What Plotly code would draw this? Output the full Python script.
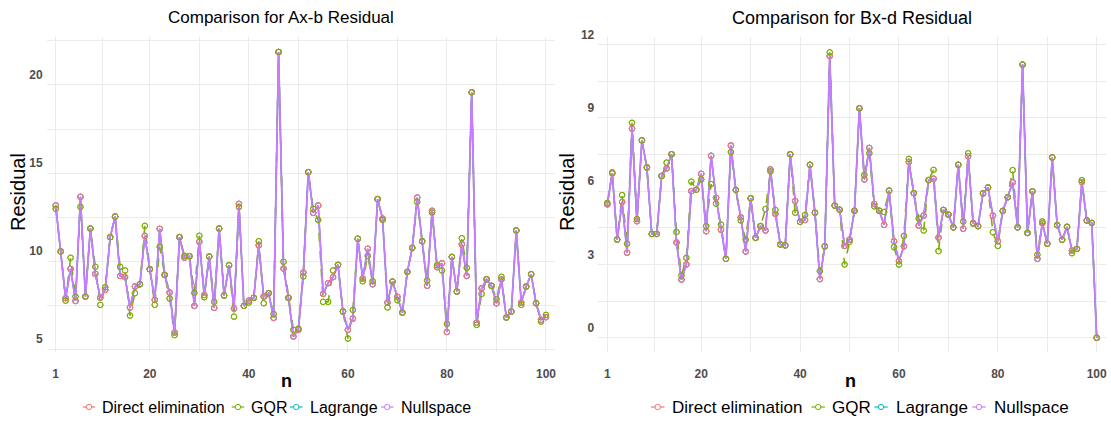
import plotly.graph_objects as go

W, H = 1111, 423

n = list(range(1, 101))

# ---------------- Ax-b residual ----------------
direct_ab = [13.16, 10.55, 7.9, 9.56, 7.74, 13.65, 7.99, 11.85, 9.28, 7.93,
             8.37, 11.36, 12.53, 9.16, 9.09, 7.37, 8.56, 8.69, 11.44, 9.54,
             7.8, 11.83, 9.22, 8.22, 5.95, 11.36, 10.2, 10.28, 7.46, 11.1,
             8.08, 10.26, 7.35, 11.85, 8.05, 9.77, 7.31, 13.25, 7.46, 7.76,
             7.92, 10.9, 7.99, 8.18, 6.78, 21.87, 9.58, 7.92, 5.72, 6.1,
             9.35, 15.05, 12.74, 13.16, 8.14, 8.75, 9.09, 9.79, 7.14, 6.1,
             6.74, 11.27, 9.01, 10.7, 8.69, 13.52, 12.42, 7.65, 8.84, 7.97,
             7.08, 9.39, 10.75, 13.61, 11.13, 8.6, 12.86, 9.66, 9.88, 5.98,
             10.24, 8.27, 10.96, 9.16, 19.58, 6.51, 8.46, 8.97, 8.6, 7.61,
             8.96, 6.8, 7.14, 11.74, 7.65, 8.56, 9.26, 7.61, 6.67, 6.82]
gqr_ab = [12.97, 10.55, 7.76, 10.19, 7.99, 13.08, 7.99, 11.85, 9.68, 7.52,
          8.52, 11.36, 12.53, 9.68, 9.47, 6.91, 8.18, 8.69, 12.0, 9.54,
          7.52, 10.81, 9.22, 7.88, 5.8, 11.36, 10.3, 10.28, 8.2, 11.44,
          7.95, 10.26, 7.69, 11.85, 8.05, 9.77, 6.85, 13.08, 7.46, 7.65,
          7.92, 11.13, 7.61, 8.18, 7.0, 21.87, 9.96, 7.92, 6.1, 6.17,
          9.13, 15.05, 12.97, 12.34, 7.69, 7.69, 9.47, 9.79, 7.14, 5.61,
          7.23, 11.27, 8.86, 10.3, 8.86, 13.52, 12.34, 7.37, 8.84, 7.78,
          7.08, 9.39, 10.75, 13.37, 11.13, 8.9, 12.76, 9.77, 9.47, 6.44,
          10.24, 8.27, 11.3, 9.62, 19.58, 6.38, 8.14, 8.97, 8.6, 7.84,
          9.11, 6.8, 7.14, 11.74, 7.52, 8.56, 9.26, 7.61, 6.57, 6.95]
lagrange_ab = [13.16, 10.55, 7.9, 9.56, 7.74, 13.65, 7.99, 11.85, 9.28, 7.93,
               8.37, 11.36, 12.53, 9.16, 9.09, 7.37, 8.56, 8.69, 11.44, 9.54,
               7.8, 11.83, 9.22, 8.22, 5.95, 11.36, 10.2, 10.28, 7.46, 11.1,
               8.08, 10.26, 7.35, 11.85, 8.05, 9.77, 7.31, 13.25, 7.46, 7.76,
               7.92, 10.9, 7.99, 8.18, 6.78, 21.87, 9.58, 7.92, 5.72, 6.1,
               9.35, 15.05, 12.74, 13.16, 8.14, 8.75, 9.09, 9.79, 7.14, 6.1,
               6.74, 11.27, 9.01, 10.7, 8.69, 13.52, 12.42, 7.65, 8.84, 7.97,
               7.08, 9.39, 10.75, 13.61, 11.13, 8.6, 12.86, 9.66, 9.88, 5.98,
               10.24, 8.27, 10.96, 9.16, 19.58, 6.51, 8.46, 8.97, 8.6, 7.61,
               8.96, 6.8, 7.14, 11.74, 7.65, 8.56, 9.26, 7.61, 6.67, 6.82]
nullspace_ab = [13.16, 10.55, 7.9, 9.56, 7.74, 13.65, 7.99, 11.85, 9.28, 7.93,
                8.37, 11.36, 12.53, 9.16, 9.09, 7.37, 8.56, 8.69, 11.44, 9.54,
                7.8, 11.83, 9.22, 8.22, 5.95, 11.36, 10.2, 10.28, 7.46, 11.1,
                8.08, 10.26, 7.35, 11.85, 8.05, 9.77, 7.31, 13.25, 7.46, 7.76,
                7.92, 10.9, 7.99, 8.18, 6.78, 21.87, 9.58, 7.92, 5.72, 6.1,
                9.35, 15.05, 12.74, 13.16, 8.14, 8.75, 9.09, 9.79, 7.14, 6.1,
                6.74, 11.27, 9.01, 10.7, 8.69, 13.52, 12.42, 7.65, 8.84, 7.97,
                7.08, 9.39, 10.75, 13.61, 11.13, 8.6, 12.86, 9.66, 9.88, 5.98,
                10.24, 8.27, 10.96, 9.16, 19.58, 6.51, 8.46, 8.97, 8.6, 7.61,
                8.96, 6.8, 7.14, 11.74, 7.65, 8.56, 9.26, 7.61, 6.67, 6.82]

# ---------------- Bx-d residual ----------------
direct_bd = [5.46, 6.73, 4.02, 5.56, 3.48, 8.56, 4.77, 8.08, 6.97, 4.25,
             4.25, 6.62, 6.93, 7.51, 3.9, 2.38, 3.0, 6.0, 6.06, 6.71,
             4.36, 7.45, 5.73, 4.42, 3.23, 7.87, 6.05, 4.93, 3.53, 5.71,
             4.09, 4.57, 4.39, 6.89, 5.07, 3.82, 3.78, 7.51, 5.6, 4.74,
             4.82, 7.08, 5.12, 2.4, 3.74, 11.53, 5.41, 5.24, 3.76, 4.02,
             5.2, 9.39, 6.48, 7.77, 5.48, 5.2, 4.62, 6.02, 3.95, 3.14,
             3.74, 7.2, 5.92, 4.59, 5.0, 6.45, 6.51, 4.1, 5.23, 5.04,
             4.52, 7.08, 4.46, 7.43, 4.7, 4.57, 5.91, 6.15, 5.0, 3.95,
             5.19, 5.75, 6.36, 4.52, 11.18, 4.29, 5.99, 3.23, 4.69, 3.85,
             7.38, 4.61, 4.01, 4.54, 3.57, 3.64, 6.37, 4.8, 4.7, 0.0]
gqr_bd = [5.52, 6.77, 4.02, 5.84, 3.85, 8.8, 4.86, 8.08, 6.97, 4.25,
          4.25, 6.62, 7.17, 7.51, 4.33, 2.55, 3.27, 6.39, 6.06, 6.48,
          4.57, 6.29, 5.49, 4.63, 3.23, 7.6, 6.05, 4.8, 4.02, 5.71,
          4.09, 4.57, 5.27, 6.81, 5.23, 3.82, 3.78, 7.51, 5.12, 4.74,
          5.03, 7.08, 5.12, 2.73, 3.74, 11.68, 5.41, 5.24, 3.0, 3.93,
          5.2, 9.39, 6.66, 7.55, 5.38, 5.2, 5.15, 6.02, 3.71, 3.0,
          4.17, 7.32, 5.92, 4.88, 4.39, 6.45, 6.87, 3.55, 5.23, 5.04,
          4.52, 7.08, 4.76, 7.55, 4.67, 4.57, 5.91, 6.15, 4.32, 3.76,
          5.19, 5.75, 6.86, 4.52, 11.18, 4.29, 5.99, 3.4, 4.76, 3.85,
          7.38, 4.61, 4.01, 4.54, 3.46, 3.64, 6.45, 4.8, 4.7, 0.0]
lagrange_bd = [5.46, 6.73, 4.02, 5.56, 3.48, 8.56, 4.77, 8.08, 6.97, 4.25,
               4.25, 6.62, 6.93, 7.51, 3.9, 2.38, 3.0, 6.0, 6.06, 6.71,
               4.36, 7.45, 5.73, 4.42, 3.23, 7.87, 6.05, 4.93, 3.53, 5.71,
               4.09, 4.57, 4.39, 6.89, 5.07, 3.82, 3.78, 7.51, 5.6, 4.74,
               4.82, 7.08, 5.12, 2.4, 3.74, 11.53, 5.41, 5.24, 3.76, 4.02,
               5.2, 9.39, 6.48, 7.77, 5.48, 5.2, 4.62, 6.02, 3.95, 3.14,
               3.74, 7.2, 5.92, 4.59, 5.0, 6.45, 6.51, 4.1, 5.23, 5.04,
               4.52, 7.08, 4.46, 7.43, 4.7, 4.57, 5.91, 6.15, 5.0, 3.95,
               5.19, 5.75, 6.36, 4.52, 11.18, 4.29, 5.99, 3.23, 4.69, 3.85,
               7.38, 4.61, 4.01, 4.54, 3.57, 3.64, 6.37, 4.8, 4.7, 0.0]
nullspace_bd = [5.46, 6.73, 4.02, 5.56, 3.48, 8.56, 4.77, 8.08, 6.97, 4.25,
                4.25, 6.62, 6.93, 7.51, 3.9, 2.38, 3.0, 6.0, 6.06, 6.71,
                4.36, 7.45, 5.73, 4.42, 3.23, 7.87, 6.05, 4.93, 3.53, 5.71,
                4.09, 4.57, 4.39, 6.89, 5.07, 3.82, 3.78, 7.51, 5.6, 4.74,
                4.82, 7.08, 5.12, 2.4, 3.74, 11.53, 5.41, 5.24, 3.76, 4.02,
                5.2, 9.39, 6.48, 7.77, 5.48, 5.2, 4.62, 6.02, 3.95, 3.14,
                3.74, 7.2, 5.92, 4.59, 5.0, 6.45, 6.51, 4.1, 5.23, 5.04,
                4.52, 7.08, 4.46, 7.43, 4.7, 4.57, 5.91, 6.15, 5.0, 3.95,
                5.19, 5.75, 6.36, 4.52, 11.18, 4.29, 5.99, 3.23, 4.69, 3.85,
                7.38, 4.61, 4.01, 4.54, 3.57, 3.64, 6.37, 4.8, 4.7, 0.0]

methods = ["Direct elimination", "GQR", "Lagrange", "Nullspace"]
colors = ["#F8766D", "#7CAE00", "#00BFC4", "#C77CFF"]
dashes = ["solid", "dash", "solid", "solid"]
widths = [1.4, 1.6, 1.4, 1.8]

x_ticks = [1, 10.5, 20, 30, 40, 50, 60, 70, 80, 90, 100]
x_text = ["1", "", "20", "", "40", "", "60", "", "80", "", "100"]
y1_ticks = [5, 7.5, 10, 12.5, 15, 17.5, 20, 22.5]
y1_text = ["5", "", "10", "", "15", "", "20", ""]
y2_ticks = [0, 1.5, 3, 4.5, 6, 7.5, 9, 10.5, 12]
y2_text = ["0", "", "3", "", "6", "", "9", "", "12"]

SANS = "Liberation Sans, Arial, sans-serif"

fig = go.Figure()


def add_panel(xa, ya, data):
    for i, (name, vals) in enumerate(zip(methods, data)):
        fig.add_trace(go.Scatter(
            x=n, y=vals, name=name, xaxis=xa, yaxis=ya, showlegend=False,
            mode="lines+markers",
            line=dict(color=colors[i], width=widths[i], dash=dashes[i]),
            marker=dict(symbol="circle-open", size=5.5, color=colors[i],
                        line=dict(width=1))))
    # visible point overlays (red, then green on top)
    for i in (0, 1):
        fig.add_trace(go.Scatter(
            x=n, y=data[i], name=methods[i], xaxis=xa, yaxis=ya,
            mode="markers", showlegend=False, hoverinfo="skip",
            marker=dict(symbol="circle-open", size=5.5, color=colors[i],
                        line=dict(width=1))))


add_panel("x", "y", [direct_ab, gqr_ab, lagrange_ab, nullspace_ab])
add_panel("x2", "y2", [direct_bd, gqr_bd, lagrange_bd, nullspace_bd])

grid = "#EBEBEB"
tickfont = dict(family=SANS, size=12, color="#4D4D4D", weight="bold")


def xaxis(domain, anchor):
    return dict(domain=domain, anchor=anchor, range=[-0.82, 101.82],
                tickvals=x_ticks, ticktext=x_text, showgrid=True,
                gridcolor=grid, gridwidth=1, zeroline=False, showline=False,
                ticks="", tickfont=tickfont, ticklabelstandoff=13,
                automargin=False)


def yaxis(domain, anchor, rng, tv, tt):
    return dict(domain=domain, anchor=anchor, range=rng, tickvals=tv,
                ticktext=tt, showgrid=True, gridcolor=grid, gridwidth=1,
                zeroline=False, showline=False, ticks="", tickfont=tickfont,
                ticklabelshift=-10, ticklabelstandoff=3, automargin=False)


ydom = [(H - 351.7) / H, (H - 36.5) / H]
fig.update_layout(
    width=W, height=H,
    margin=dict(l=0, r=0, t=0, b=0, autoexpand=False),
    paper_bgcolor="white", plot_bgcolor="white",
    xaxis=xaxis([46.7 / W, 555 / W], "y"),
    yaxis=yaxis(ydom, "x", [4.86, 22.75], y1_ticks, y1_text),
    xaxis2=xaxis([598.3 / W, 1105.7 / W], "y2"),
    yaxis2=yaxis(ydom, "x2", [-0.57, 12.33], y2_ticks, y2_text),
    showlegend=False,
)

ann = []
shapes = []
ann.append(dict(text="Comparison for Ax-b Residual", x=281 / W, y=1 - 18 / H,
                font=dict(family=SANS, size=17, color="black")))
ann.append(dict(text="Comparison for Bx-d Residual", x=852 / W, y=1 - 18 / H,
                font=dict(family=SANS, size=18, color="black")))
ann.append(dict(text="Residual", x=18 / W, y=1 - 192 / H, textangle=-90,
                font=dict(family=SANS, size=20, color="black")))
ann.append(dict(text="Residual", x=567 / W, y=1 - 192 / H, textangle=-90,
                font=dict(family=SANS, size=20, color="black")))
ann.append(dict(text="n", x=286 / W, y=1 - 381 / H,
                font=dict(family=SANS, size=18, color="black", weight="bold")))
ann.append(dict(text="n", x=850 / W, y=1 - 381 / H,
                font=dict(family=SANS, size=18, color="black", weight="bold")))
for a in ann:
    a.update(xanchor="center", yanchor="middle")

# legends (key: short line with open circle, then label), one under each panel
key_x = [82.7, 231.7, 290.0, 381.0]       # key start, left legend
text_x = [100.0, 249.3, 308.3, 399.0]     # label start, left legend
ly = 407
for origin, scale, fsize in ((82.7, 1.0, 16), (651.0, 1.077, 17)):
    for i, name in enumerate(methods):
        k0 = origin + (key_x[i] - 82.7) * scale
        k1 = k0 + 12.5 * scale
        kc = (k0 + k1) / 2
        tx = origin + (text_x[i] - 82.7) * scale
        shapes.append(dict(type="line", x0=k0 / W, x1=k1 / W,
                           y0=1 - ly / H, y1=1 - ly / H,
                           line=dict(color=colors[i], width=1.2)))
        shapes.append(dict(type="circle", x0=(kc - 2.7) / W, x1=(kc + 2.7) / W,
                           y0=1 - (ly + 2.7) / H, y1=1 - (ly - 2.7) / H,
                           fillcolor="white", line=dict(color=colors[i], width=1)))
        ann.append(dict(text=name, x=tx / W, y=1 - ly / H,
                        xanchor="left", yanchor="middle",
                        font=dict(family=SANS, size=fsize, color="black")))

for a in ann:
    a.update(xref="paper", yref="paper", showarrow=False)
for s in shapes:
    s.update(xref="paper", yref="paper", layer="above")
fig.update_layout(annotations=ann, shapes=shapes)

# remove the browser's default 8px body margin so the figure sits at (0, 0)
fig.write_html("out.html",
               config={"displayModeBar": False},
               post_script="document.body.style.margin='0';"
                           "document.body.style.overflow='hidden';")
